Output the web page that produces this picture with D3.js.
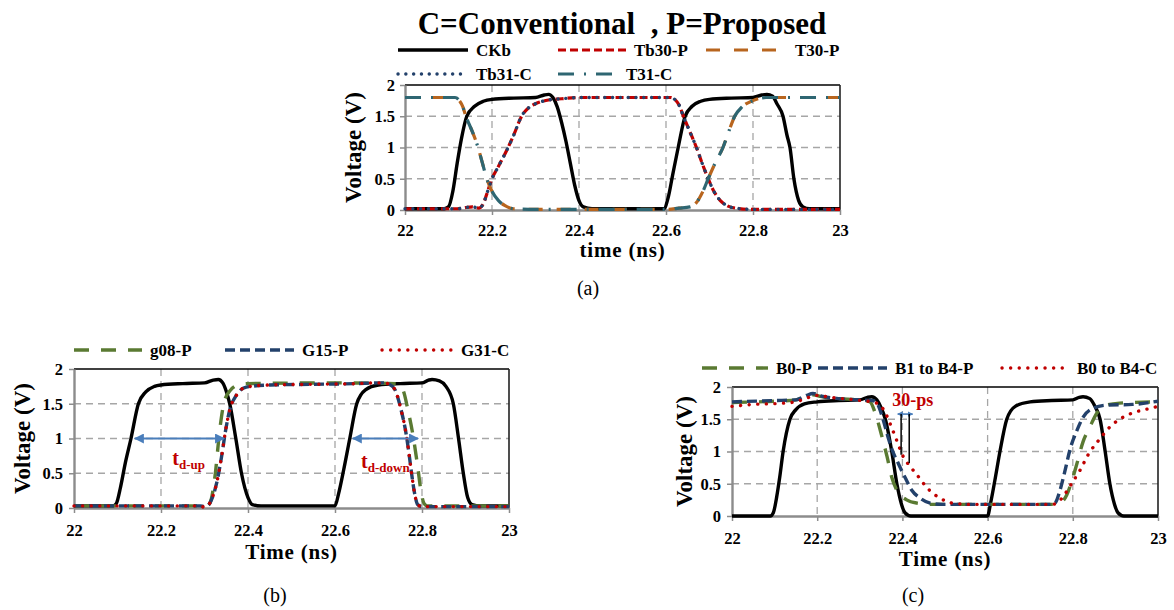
<!DOCTYPE html>
<html lang="en">
<head>
<meta charset="UTF-8">
<title>Voltage waveforms</title>
<script src="https://d3js.org/d3.v7.min.js"></script>
<style>
  body { margin: 0; background: #fff; }
  text { font-family: "Liberation Serif", "Times New Roman", serif; }
</style>
</head>
<body>
<svg id="fig" width="1174" height="610"></svg>
<script>
// ---- data (time in ns, voltage in V) ----
var xTicks = [22, 22.2, 22.4, 22.6, 22.8, 23];
var yTicks = [0, 0.5, 1, 1.5, 2];

// panel (a)
var ckbA = [[22,0.02],[22.09,0.02],[22.1,0.05],[22.11,0.3],[22.12,0.75],[22.13,1.15],[22.142,1.5],[22.16,1.66],[22.18,1.74],[22.2,1.77],[22.25,1.79],[22.3,1.8],[22.32,1.84],[22.33,1.85],[22.34,1.8],[22.35,1.65],[22.36,1.4],[22.37,1.1],[22.38,0.75],[22.39,0.4],[22.4,0.15],[22.41,0.05],[22.43,0.02],[22.595,0.02],[22.605,0.2],[22.615,0.55],[22.628,1.0],[22.644,1.5],[22.66,1.66],[22.68,1.74],[22.7,1.77],[22.75,1.79],[22.8,1.8],[22.82,1.84],[22.832,1.85],[22.845,1.82],[22.855,1.7],[22.869,1.5],[22.878,1.2],[22.885,1.0],[22.894,0.5],[22.905,0.15],[22.915,0.05],[22.93,0.02],[23,0.02]];
var tb30P = [[22,0.02],[22.12,0.02],[22.14,0.04],[22.155,0.05],[22.17,0.03],[22.18,0.1],[22.19,0.3],[22.2,0.5],[22.215,0.7],[22.237,1.0],[22.25,1.2],[22.268,1.5],[22.285,1.64],[22.3,1.7],[22.33,1.76],[22.36,1.78],[22.4,1.8],[22.61,1.8],[22.62,1.77],[22.63,1.68],[22.64,1.5],[22.655,1.25],[22.67,1.0],[22.683,0.75],[22.697,0.5],[22.71,0.3],[22.725,0.15],[22.74,0.07],[22.76,0.03],[22.8,0.01],[23,0.01]];
var t30P = [[22,1.8],[22.115,1.8],[22.125,1.75],[22.133,1.65],[22.14,1.5],[22.155,1.25],[22.168,1.0],[22.178,0.75],[22.188,0.5],[22.2,0.3],[22.215,0.15],[22.23,0.07],[22.25,0.02],[22.3,0.01],[22.6,0.01],[22.63,0.03],[22.655,0.05],[22.67,0.12],[22.685,0.3],[22.697,0.5],[22.715,0.78],[22.731,1.0],[22.745,1.27],[22.758,1.5],[22.775,1.65],[22.8,1.75],[22.83,1.8],[23,1.8]];
var tb31C = [[22,0.02],[22.12,0.02],[22.14,0.04],[22.155,0.05],[22.17,0.03],[22.18,0.1],[22.19,0.3],[22.2,0.5],[22.215,0.7],[22.237,1.0],[22.25,1.2],[22.268,1.5],[22.285,1.64],[22.3,1.7],[22.33,1.76],[22.36,1.78],[22.4,1.8],[22.61,1.8],[22.62,1.77],[22.63,1.68],[22.64,1.5],[22.655,1.25],[22.67,1.0],[22.683,0.75],[22.697,0.5],[22.71,0.3],[22.725,0.15],[22.74,0.07],[22.76,0.03],[22.8,0.01],[23,0.01]];
var t31C = [[22,1.8],[22.115,1.8],[22.125,1.75],[22.133,1.65],[22.14,1.5],[22.155,1.25],[22.168,1.0],[22.178,0.75],[22.188,0.5],[22.2,0.3],[22.215,0.15],[22.23,0.07],[22.25,0.02],[22.3,0.01],[22.6,0.01],[22.63,0.03],[22.655,0.05],[22.67,0.12],[22.685,0.3],[22.697,0.5],[22.715,0.78],[22.731,1.0],[22.745,1.27],[22.758,1.5],[22.775,1.65],[22.8,1.75],[22.83,1.8],[23,1.8]];

// panel (b)
var ckbB = [[22,0.03],[22.09,0.03],[22.097,0.06],[22.107,0.3],[22.118,0.65],[22.131,1.0],[22.148,1.5],[22.165,1.67],[22.185,1.75],[22.2,1.77],[22.25,1.79],[22.3,1.8],[22.32,1.84],[22.332,1.85],[22.342,1.8],[22.35,1.68],[22.358,1.5],[22.372,1.0],[22.385,0.5],[22.4,0.15],[22.41,0.05],[22.43,0.03],[22.6,0.03],[22.608,0.2],[22.62,0.55],[22.634,1.0],[22.65,1.5],[22.67,1.7],[22.7,1.77],[22.75,1.79],[22.8,1.8],[22.815,1.84],[22.823,1.85],[22.84,1.83],[22.855,1.75],[22.872,1.5],[22.884,1.0],[22.895,0.5],[22.905,0.15],[22.915,0.05],[22.935,0.03],[23,0.03]];
var g08P = [[22,0.03],[22.305,0.03],[22.313,0.08],[22.324,0.45],[22.335,1.12],[22.345,1.52],[22.359,1.69],[22.382,1.78],[22.4,1.79],[22.6,1.8],[22.74,1.79],[22.756,1.7],[22.768,1.4],[22.78,1.02],[22.79,0.6],[22.798,0.23],[22.805,0.06],[22.812,0.03],[23,0.03]];
var g15P = [[22,0.03],[22.29,0.03],[22.3,0.02],[22.31,0.05],[22.318,0.15],[22.328,0.36],[22.339,0.73],[22.35,1.17],[22.358,1.41],[22.373,1.62],[22.396,1.74],[22.45,1.77],[22.55,1.78],[22.65,1.79],[22.7,1.8],[22.712,1.8],[22.725,1.78],[22.738,1.7],[22.752,1.41],[22.762,1.12],[22.77,0.79],[22.776,0.5],[22.783,0.21],[22.79,0.05],[22.8,0.02],[23,0.02]];
var g31C = [[22,0.03],[22.29,0.03],[22.3,0.01],[22.31,0.05],[22.318,0.15],[22.328,0.36],[22.339,0.73],[22.35,1.17],[22.358,1.41],[22.373,1.62],[22.396,1.74],[22.45,1.77],[22.55,1.78],[22.65,1.79],[22.7,1.8],[22.712,1.8],[22.725,1.78],[22.738,1.7],[22.752,1.41],[22.762,1.12],[22.77,0.79],[22.776,0.5],[22.783,0.21],[22.79,0.05],[22.8,0.02],[23,0.02]];

// panel (c)
var ckbC = [[22,0],[22.09,0],[22.097,0.05],[22.105,0.3],[22.112,0.6],[22.12,1.0],[22.136,1.5],[22.15,1.65],[22.17,1.74],[22.2,1.77],[22.25,1.79],[22.3,1.8],[22.318,1.84],[22.328,1.85],[22.34,1.8],[22.35,1.68],[22.36,1.5],[22.375,1.0],[22.387,0.5],[22.398,0.18],[22.406,0.05],[22.42,0],[22.6,0],[22.607,0.2],[22.617,0.55],[22.629,1.0],[22.645,1.5],[22.665,1.7],[22.7,1.77],[22.75,1.79],[22.8,1.8],[22.815,1.84],[22.824,1.85],[22.84,1.82],[22.852,1.7],[22.864,1.5],[22.876,1.0],[22.887,0.5],[22.898,0.18],[22.906,0.05],[22.92,0],[23,0]];
var b0P = [[22,1.76],[22.1,1.78],[22.15,1.8],[22.175,1.86],[22.19,1.88],[22.21,1.85],[22.25,1.82],[22.3,1.8],[22.324,1.77],[22.336,1.6],[22.352,1.23],[22.364,0.92],[22.375,0.6],[22.387,0.4],[22.41,0.25],[22.434,0.2],[22.47,0.18],[22.755,0.18],[22.77,0.2],[22.786,0.33],[22.798,0.55],[22.81,0.82],[22.824,1.15],[22.84,1.38],[22.857,1.6],[22.88,1.72],[22.91,1.75],[23,1.77]];
var b14P = [[22,1.77],[22.1,1.79],[22.15,1.8],[22.175,1.87],[22.19,1.9],[22.21,1.86],[22.25,1.82],[22.3,1.8],[22.33,1.79],[22.34,1.75],[22.355,1.49],[22.366,1.23],[22.378,0.99],[22.39,0.82],[22.406,0.6],[22.422,0.4],[22.441,0.28],[22.465,0.2],[22.495,0.18],[22.745,0.18],[22.758,0.2],[22.77,0.4],[22.782,0.71],[22.793,1.02],[22.81,1.33],[22.824,1.53],[22.848,1.67],[22.88,1.72],[22.94,1.73],[23,1.78]];
var b04C = [[22,1.7],[22.05,1.73],[22.12,1.75],[22.15,1.77],[22.176,1.83],[22.2,1.87],[22.23,1.84],[22.29,1.8],[22.34,1.75],[22.36,1.6],[22.37,1.45],[22.385,1.2],[22.402,0.92],[22.418,0.77],[22.434,0.64],[22.45,0.5],[22.47,0.36],[22.488,0.28],[22.505,0.22],[22.53,0.19],[22.56,0.18],[22.75,0.18],[22.763,0.2],[22.777,0.3],[22.798,0.51],[22.817,0.71],[22.836,0.95],[22.864,1.2],[22.887,1.38],[22.915,1.52],[22.941,1.6],[22.97,1.65],[23,1.7]];

// ---- styles ----
var RED = "#c00000", NAVY = "#23416b", ORANGE = "#b8651e", TEAL = "#2e6672", GREEN = "#5a7a32", ARROW = "#4a7ebb";
var sCk = {color: "#000", dash: null, width: 3.4};
var sRedDash = {color: RED, dash: "8,4", width: 3.2};
var sOrange = {color: ORANGE, dash: "14,14", width: 3.2};
var sNavyDot = {color: NAVY, dash: "0.1,7.7", width: 3.4, cap: "round"};
var sTeal = {color: TEAL, dash: "16,10,2,10", width: 3.2};
var sGreen = {color: GREEN, dash: "15,12", width: 3.4};
var sNavyDash = {color: NAVY, dash: "10,5", width: 3.4};
var sRedDot = {color: RED, dash: "0.1,8.5", width: 3.4, cap: "round"};

var svg = d3.select("#fig");
var defs = svg.append("defs");
[["ah", 5], ["ahs", 3.5]].forEach(function (m) {
  defs.append("marker")
    .attr("id", m[0]).attr("viewBox", "0 0 10 10").attr("refX", 9).attr("refY", 5)
    .attr("markerWidth", m[1]).attr("markerHeight", m[1]).attr("orient", "auto-start-reverse")
    .append("path").attr("d", "M0,0 L10,5 L0,10 z").attr("fill", ARROW);
});

// title
svg.append("text").attr("x", 622).attr("y", 34).attr("text-anchor", "middle")
  .attr("font-size", 31).attr("font-weight", "bold").style("white-space", "pre")
  .text("C=Conventional  , P=Proposed");

function styleLine(sel, s) {
  sel.attr("fill", "none").attr("stroke", s.color).attr("stroke-width", s.width)
    .attr("stroke-dasharray", s.dash).attr("stroke-linecap", s.cap || "butt")
    .attr("stroke-linejoin", "round");
}

function drawPanel(p) {
  var x = d3.scaleLinear().domain([22, 23]).range([p.left, p.right]);
  var y = d3.scaleLinear().domain([0, 2]).range([p.bottom, p.top]);
  var g = svg.append("g");

  g.selectAll(".vg").data(xTicks.slice(1, -1)).enter().append("line")
    .attr("x1", d => x(d)).attr("x2", d => x(d)).attr("y1", y(2)).attr("y2", y(0))
    .attr("stroke", "#a6a6a6").attr("stroke-width", 1.3).attr("stroke-dasharray", "7,5");
  g.selectAll(".hg").data(yTicks.slice(1, -1)).enter().append("line")
    .attr("x1", x(22)).attr("x2", x(23)).attr("y1", d => y(d)).attr("y2", d => y(d))
    .attr("stroke", "#a6a6a6").attr("stroke-width", 1.3).attr("stroke-dasharray", "7,5");

  g.append("line").attr("x1", x(22)).attr("x2", x(23)).attr("y1", y(2)).attr("y2", y(2))
    .attr("stroke", "#000").attr("stroke-width", 1.6);
  g.append("line").attr("x1", x(23)).attr("x2", x(23)).attr("y1", y(2)).attr("y2", y(0))
    .attr("stroke", "#222").attr("stroke-width", 1.6);

  var ya = g.append("g").attr("transform", "translate(" + p.left + ",0)")
    .call(d3.axisLeft(y).tickValues(yTicks).tickSize(5).tickSizeOuter(0).tickPadding(p.yPad).tickFormat(d => String(d)));
  var xa = g.append("g").attr("transform", "translate(0," + p.bottom + ")")
    .call(d3.axisBottom(x).tickValues(xTicks).tickSize(5).tickSizeOuter(0).tickPadding(p.xPad).tickFormat(d => String(d)));
  [ya, xa].forEach(function (a) {
    a.attr("font-family", null).attr("font-size", null);
    a.select(".domain").attr("stroke", "#8c8c8c").attr("stroke-width", 2.4);
    a.selectAll(".tick line").attr("stroke", "#8c8c8c").attr("stroke-width", 1.5);
    a.selectAll(".tick text").attr("fill", "#000").attr("font-size", 16.5).attr("font-weight", "bold")
      .style("font-family", '"Liberation Serif", serif');
  });

  var line = d3.line().x(d => x(d[0])).y(d => y(d[1])).curve(d3.curveMonotoneX);
  p.series.forEach(function (s) {
    styleLine(g.append("path").attr("d", line(s.data)), s.style);
  });

  // legend
  p.series.forEach(function (s) {
    if (!s.label) return;
    styleLine(g.append("line").attr("x1", s.lx1).attr("x2", s.lx2).attr("y1", s.ly).attr("y2", s.ly), s.style);
    g.append("text").attr("x", s.lx2 + 8).attr("y", s.ly).attr("dominant-baseline", "central")
      .attr("font-size", 17).attr("font-weight", "bold").text(s.label);
  });

  g.append("text").attr("transform", "translate(" + (p.left - p.vOff) + "," + ((p.top + p.bottom) / 2) + ") rotate(-90)")
    .attr("text-anchor", "middle").attr("dominant-baseline", "central")
    .attr("font-size", 23).attr("font-weight", "bold").text("Voltage (V)");
  g.append("text").attr("x", (p.left + p.right) / 2).attr("y", p.bottom + p.tOff)
    .attr("text-anchor", "middle").attr("dominant-baseline", "central")
    .attr("font-size", 21).attr("font-weight", "bold").attr("letter-spacing", 0.8).text(p.xTitle);
  g.append("text").attr("x", p.capX).attr("y", p.capY).attr("text-anchor", "middle")
    .attr("dominant-baseline", "central").attr("font-size", 20).text(p.caption);

  return {x: x, y: y, g: g};
}

// (a) CKb is drawn first so it stays below the other traces
drawPanel({
  left: 405, right: 840, top: 85, bottom: 210, yPad: 5, xPad: 9, vOff: 52, tOff: 40,
  xTitle: "time (ns)", caption: "(a)", capX: 588, capY: 288,
  series: [
    {data: ckbA, style: sCk, label: "CKb", lx1: 398, lx2: 468, ly: 50},
    {data: tb30P, style: sRedDash, label: "Tb30-P", lx1: 558, lx2: 626, ly: 50},
    {data: t30P, style: sOrange, label: "T30-P", lx1: 706, lx2: 787, ly: 50},
    {data: tb31C, style: sNavyDot, label: "Tb31-C", lx1: 398, lx2: 468, ly: 74},
    {data: t31C, style: sTeal, label: "T31-C", lx1: 558, lx2: 618, ly: 74}
  ]
});

// (b)
var pb = drawPanel({
  left: 74, right: 509, top: 369, bottom: 508, yPad: 6, xPad: 11, vOff: 52, tOff: 44,
  xTitle: "Time (ns)", caption: "(b)", capX: 275, capY: 595,
  series: [
    {data: ckbB, style: sCk, label: ""},
    {data: g08P, style: sGreen, label: "g08-P", lx1: 74, lx2: 142, ly: 350},
    {data: g15P, style: sNavyDash, label: "G15-P", lx1: 225, lx2: 294, ly: 350},
    {data: g31C, style: sRedDot, label: "G31-C", lx1: 382, lx2: 453, ly: 350}
  ]
});
[[22.14, 22.345], [22.641, 22.791]].forEach(function (a) {
  pb.g.append("line").attr("x1", pb.x(a[0])).attr("x2", pb.x(a[1])).attr("y1", pb.y(1)).attr("y2", pb.y(1))
    .attr("stroke", ARROW).attr("stroke-width", 2).attr("marker-start", "url(#ah)").attr("marker-end", "url(#ah)");
});
function tdLabel(g, x, y, sub) {
  var t = g.append("text").attr("x", x).attr("y", y).attr("fill", RED).attr("font-weight", "bold").attr("font-size", 20);
  t.append("tspan").text("t");
  t.append("tspan").attr("font-size", 13).attr("dy", 4).text(sub);
}
tdLabel(pb.g, pb.x(22.226), pb.y(0.62), "d-up");
tdLabel(pb.g, pb.x(22.66), pb.y(0.57), "d-down");

// (c)
var pc = drawPanel({
  left: 732, right: 1158, top: 387, bottom: 516, yPad: 6, xPad: 11, vOff: 48, tOff: 43,
  xTitle: "Time (ns)", caption: "(c)", capX: 913, capY: 595,
  series: [
    {data: ckbC, style: sCk, label: ""},
    {data: b0P, style: sGreen, label: "B0-P", lx1: 702, lx2: 768, ly: 368},
    {data: b14P, style: sNavyDash, label: "B1 to B4-P", lx1: 818, lx2: 887, ly: 368},
    {data: b04C, style: sRedDot, label: "B0 to B4-C", lx1: 1002, lx2: 1069, ly: 368}
  ]
});
pc.g.append("line").attr("x1", pc.x(22.389)).attr("x2", pc.x(22.424)).attr("y1", pc.y(1.58)).attr("y2", pc.y(1.58))
  .attr("stroke", ARROW).attr("stroke-width", 1.6).attr("marker-start", "url(#ahs)").attr("marker-end", "url(#ahs)");
[[22.397, 0.95], [22.416, 0.82]].forEach(function (v) {
  pc.g.append("line").attr("x1", pc.x(v[0])).attr("x2", pc.x(v[0])).attr("y1", pc.y(1.58)).attr("y2", pc.y(v[1]))
    .attr("stroke", "#000").attr("stroke-width", 1.5);
});
pc.g.append("text").attr("x", pc.x(22.376)).attr("y", pc.y(1.7)).attr("fill", RED)
  .attr("font-weight", "bold").attr("font-size", 18).text("30-ps");
</script>
</body>
</html>
